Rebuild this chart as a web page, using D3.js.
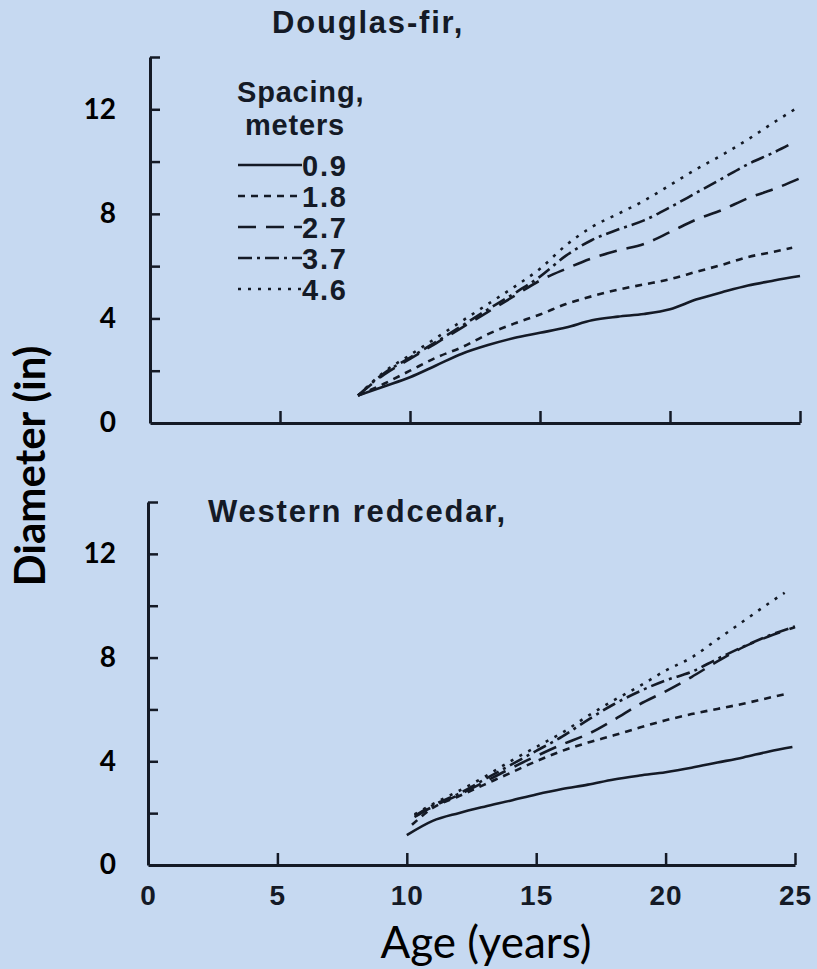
<!DOCTYPE html>
<html>
<head>
<meta charset="utf-8">
<script src="https://cdnjs.cloudflare.com/ajax/libs/d3/7.8.5/d3.min.js"></script>
<style>
  html, body { margin: 0; padding: 0; background: #c6d9f1; }
  svg { display: block; }
</style>
</head>
<body>
<div id="chart"></div>
<script>
// Data (diameter in inches vs age in years)
var spacings = ["0.9", "1.8", "2.7", "3.7", "4.6"];
var yTickLabels = [0, 4, 8, 12];
var xTickLabels = [0, 5, 10, 15, 20, 25];

// Douglas-fir
var dfAge = [8, 9, 10, 11, 12, 13, 14, 15, 16, 17, 18, 19, 20, 21, 22, 23, 24, 25];
var dfLastAge = [25, 24.7, 25, 24.6, 24.8];
var df09 = [1.05, 1.4, 1.75, 2.2, 2.65, 2.98, 3.25, 3.45, 3.65, 3.93, 4.07, 4.17, 4.35, 4.72, 5.0, 5.26, 5.45, 5.62];
var df18 = [1.05, 1.5, 2.0, 2.5, 2.9, 3.4, 3.8, 4.15, 4.55, 4.85, 5.1, 5.3, 5.5, 5.78, 6.05, 6.35, 6.55, 6.7];
var df27 = [1.05, 1.85, 2.45, 3.05, 3.65, 4.25, 4.85, 5.45, 5.9, 6.3, 6.6, 6.85, 7.3, 7.78, 8.15, 8.6, 8.95, 9.36];
var df37 = [1.05, 1.9, 2.5, 3.1, 3.72, 4.35, 4.95, 5.6, 6.4, 7.0, 7.4, 7.75, 8.25, 8.8, 9.35, 9.9, 10.35, 10.65];
var df46 = [1.05, 1.95, 2.6, 3.25, 3.9, 4.55, 5.2, 5.9, 6.8, 7.5, 8.0, 8.5, 9.1, 9.7, 10.25, 10.85, 11.5, 12.0];

// Western redcedar
var wrcAge = [10, 11, 12, 13, 14, 15, 16, 17, 18, 19, 20, 21, 22, 23, 24, 25];
var wrcFirstAge = [10, 10.2, 10.3, 10.3, 10.3];
var wrcLastAge = [24.9, 24.6, 25, 25, 24.6];
var wrc09 = [1.15, 1.7, 2.0, 2.25, 2.48, 2.72, 2.93, 3.1, 3.3, 3.45, 3.58, 3.75, 3.95, 4.15, 4.38, 4.55];
var wrc18 = [1.55, 2.2, 2.65, 3.1, 3.55, 4.0, 4.4, 4.72, 5.0, 5.3, 5.58, 5.82, 6.02, 6.22, 6.45, 6.58];
var wrc27 = [1.85, 2.25, 2.7, 3.2, 3.72, 4.2, 4.65, 5.05, 5.6, 6.2, 6.7, 7.25, 7.85, 8.4, 8.82, 9.17];
var wrc37 = [1.9, 2.3, 2.75, 3.3, 3.85, 4.4, 4.95, 5.6, 6.2, 6.7, 7.12, 7.45, 7.95, 8.42, 8.85, 9.2];
var wrc46 = [1.95, 2.35, 2.85, 3.4, 4.0, 4.55, 5.1, 5.75, 6.35, 6.9, 7.5, 8.0, 8.7, 9.4, 10.1, 10.5];

// line styles for each spacing
var dashStyles = ["none", "7,6", "18,10", "14,5,3,5", "3,7"];
var ink = "#141a26";
var scanFont = "'Liberation Sans', Arial, sans-serif";
var overlayFont = "Lato, 'Open Sans', sans-serif";

var svgWidth = 817;
var svgHeight = 969;

var svg = d3.select("#chart")
  .append("svg")
  .attr("width", svgWidth)
  .attr("height", svgHeight);

svg.append("rect")
  .attr("width", svgWidth)
  .attr("height", svgHeight)
  .attr("fill", "#c6d9f1");

// build series [{age, d}] with first/last age adjusted
function makeSeries(ages, values, firstAge, lastAge) {
  return values.map(function (v, i) {
    var a = ages[i];
    if (i === 0) a = firstAge;
    if (i === values.length - 1) a = lastAge;
    return { age: a, d: v };
  });
}

function drawPanel(opts) {
  var x = d3.scaleLinear().domain([0, 25]).range(opts.xRange);
  var y = d3.scaleLinear().domain([0, 14]).range(opts.yRange);

  var g = svg.append("g");

  // y axis, ticks pointing inward
  var yAxis = d3.axisLeft(y)
    .tickValues(d3.range(2, 15, 2))
    .tickSize(-10)
    .tickSizeOuter(0)
    .tickFormat("");
  var ya = g.append("g")
    .attr("transform", `translate(${opts.xRange[0]},0)`)
    .call(yAxis);
  ya.select(".domain").attr("stroke", ink).attr("stroke-width", 3);
  ya.selectAll(".tick line").attr("stroke", ink).attr("stroke-width", 2.5);

  // x axis, ticks pointing up
  var xAxis = d3.axisBottom(x)
    .tickValues([5, 10, 15, 20, 25])
    .tickSize(-12)
    .tickSizeOuter(0)
    .tickFormat("");
  var xa = g.append("g")
    .attr("transform", `translate(0,${opts.yRange[0]})`)
    .call(xAxis);
  xa.select(".domain").attr("stroke", ink).attr("stroke-width", 3);
  xa.selectAll(".tick line").attr("stroke", ink).attr("stroke-width", 2.5);

  // x tick labels (bottom panel only)
  if (opts.showXLabels) {
    var xl = g.append("g")
      .attr("transform", `translate(0,${opts.yRange[0] + 12})`)
      .call(d3.axisBottom(x).tickValues(xTickLabels).tickSize(0).tickPadding(8));
    xl.select(".domain").remove();
    xl.selectAll("text")
      .attr("font-family", scanFont)
      .attr("font-weight", "bold")
      .attr("font-size", "28px")
      .attr("letter-spacing", "1px")
      .attr("fill", ink);
  }

  // overlay y labels (inches)
  var yl = g.append("g")
    .attr("transform", `translate(116,0)`)
    .call(d3.axisLeft(y).tickValues(yTickLabels).tickSize(0).tickPadding(0));
  yl.select(".domain").remove();
  yl.selectAll("text")
    .attr("font-family", overlayFont)
    .attr("font-weight", "bold")
    .attr("font-size", "28px")
    .attr("fill", "#000");

  // curves
  var line = d3.line()
    .x(function (p) { return x(p.age); })
    .y(function (p) { return y(p.d); })
    .curve(d3.curveMonotoneX);

  opts.series.forEach(function (s, i) {
    g.append("path")
      .datum(makeSeries(opts.ages, s, opts.firstAge[i], opts.lastAge[i]))
      .attr("d", line)
      .attr("fill", "none")
      .attr("stroke", ink)
      .attr("stroke-width", 2.6)
      .attr("stroke-dasharray", dashStyles[i]);
  });

  // species title
  g.append("text")
    .attr("x", opts.titleX)
    .attr("y", opts.titleY)
    .attr("font-family", scanFont)
    .attr("font-weight", "bold")
    .attr("font-size", "31px")
    .attr("letter-spacing", "1.8px")
    .attr("fill", ink)
    .text(opts.title);
}

// Top panel: Douglas-fir
drawPanel({
  xRange: [150, 800],
  yRange: [423, 57],
  ages: dfAge,
  firstAge: [8, 8, 8, 8, 8],
  lastAge: dfLastAge,
  series: [df09, df18, df27, df37, df46],
  title: "Douglas-fir,",
  titleX: 272,
  titleY: 33,
  showXLabels: false
});

// Bottom panel: Western redcedar
drawPanel({
  xRange: [148, 795],
  yRange: [865, 502],
  ages: wrcAge,
  firstAge: wrcFirstAge,
  lastAge: wrcLastAge,
  series: [wrc09, wrc18, wrc27, wrc37, wrc46],
  title: "Western redcedar,",
  titleX: 208,
  titleY: 522,
  showXLabels: true
});

// Legend
var legend = svg.append("g");
legend.append("text")
  .attr("x", 237).attr("y", 102)
  .attr("font-family", scanFont).attr("font-weight", "bold")
  .attr("font-size", "29px").attr("letter-spacing", "0.8px")
  .attr("fill", ink)
  .text("Spacing,");
legend.append("text")
  .attr("x", 245).attr("y", 135)
  .attr("font-family", scanFont).attr("font-weight", "bold")
  .attr("font-size", "29px").attr("letter-spacing", "0.8px")
  .attr("fill", ink)
  .text("meters");

var rows = legend.selectAll(".row")
  .data(spacings)
  .enter()
  .append("g")
  .attr("class", "row")
  .attr("transform", function (d, i) { return `translate(0,${165 + i * 31})`; });

rows.append("line")
  .attr("x1", 238).attr("x2", 302)
  .attr("y1", 0).attr("y2", 0)
  .attr("stroke", ink)
  .attr("stroke-width", 2.6)
  .attr("stroke-dasharray", function (d, i) { return dashStyles[i]; });

rows.append("text")
  .attr("x", 302)
  .attr("y", 11)
  .attr("font-family", scanFont).attr("font-weight", "bold")
  .attr("font-size", "29px").attr("letter-spacing", "1.8px")
  .attr("fill", ink)
  .text(function (d) { return d; });

// Overlay axis titles
svg.append("text")
  .attr("transform", "translate(45,466) rotate(-90)")
  .attr("text-anchor", "middle")
  .attr("font-family", overlayFont)
  .attr("font-weight", "bold")
  .attr("font-size", "42px")
  .attr("fill", "#000")
  .text("Diameter (in)");

svg.append("text")
  .attr("x", 486)
  .attr("y", 958)
  .attr("text-anchor", "middle")
  .attr("font-family", overlayFont)
  .attr("font-size", "44px")
  .attr("fill", "#000")
  .text("Age (years)");
</script>
</body>
</html>
